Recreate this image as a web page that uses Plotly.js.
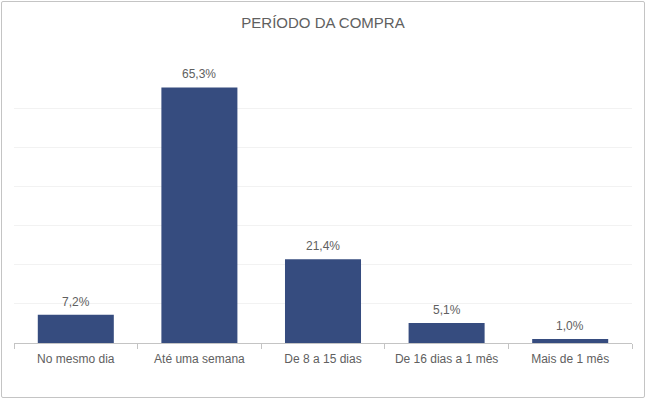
<!DOCTYPE html>
<html>
<head>
<meta charset="utf-8">
<script src="https://cdn.plot.ly/plotly-3.0.1.min.js"></script>
<style>
  html, body { margin: 0; padding: 0; background: #fff; }
  #wrap { position: relative; width: 646px; height: 399px; }
  #chart { position: absolute; left: 0; top: 0; width: 646px; height: 399px; }
  #frame { position: absolute; left: 1px; top: 1px; width: 642px; height: 395px; border: 1px solid #c4c4c4; border-radius: 2px; pointer-events: none; }
</style>
</head>
<body>
<div id="wrap"><div id="chart"></div><div id="frame"></div></div>
<script>
const categories = ["No mesmo dia", "Até uma semana", "De 8 a 15 dias", "De 16 dias a 1 mês", "Mais de 1 mês"];
const values = [7.2, 65.3, 21.4, 5.1, 1.0];
const labels = ["7,2%", "65,3%", "21,4%", "5,1%", "1,0%"];
const chartTitle = "PERÍODO DA COMPRA";

const font = "Liberation Sans, Arial, sans-serif";
const grayText = "#606060";

const trace = {
  type: "bar",
  x: categories,
  y: values,
  marker: { color: "#364C7F" },
  hoverinfo: "none"
};

const annotations = categories.map((c, i) => ({
  x: c, y: values[i], xref: "x", yref: "y",
  text: labels[i], showarrow: false,
  yanchor: "bottom", yshift: 4,
  font: { family: font, size: 12, color: grayText }
}));

const layout = {
  width: 646, height: 399,
  margin: { l: 14, r: 14, t: 69, b: 56 },
  paper_bgcolor: "#fff", plot_bgcolor: "#fff",
  bargap: 0.385,
  showlegend: false,
  title: {
    text: chartTitle,
    x: 0.5, xanchor: "center",
    y: 0.942, yanchor: "middle",
    font: { family: font, size: 15, color: grayText }
  },
  xaxis: {
    type: "category",
    showline: true, linecolor: "#c4c4c4", linewidth: 1,
    ticks: "outside", tickson: "boundaries", ticklen: 5, tickcolor: "#c4c4c4",
    ticklabelstandoff: 5,
    tickfont: { family: font, size: 12, color: grayText },
    showgrid: false, zeroline: false, fixedrange: true
  },
  yaxis: {
    range: [0, 70], dtick: 10,
    showgrid: true, gridcolor: "#f2f2f2", gridwidth: 1,
    showticklabels: false, zeroline: false, showline: false, ticks: "",
    fixedrange: true
  },
  annotations: annotations
};

Plotly.newPlot("chart", [trace], layout, { displayModeBar: false, staticPlot: true });
</script>
</body>
</html>
